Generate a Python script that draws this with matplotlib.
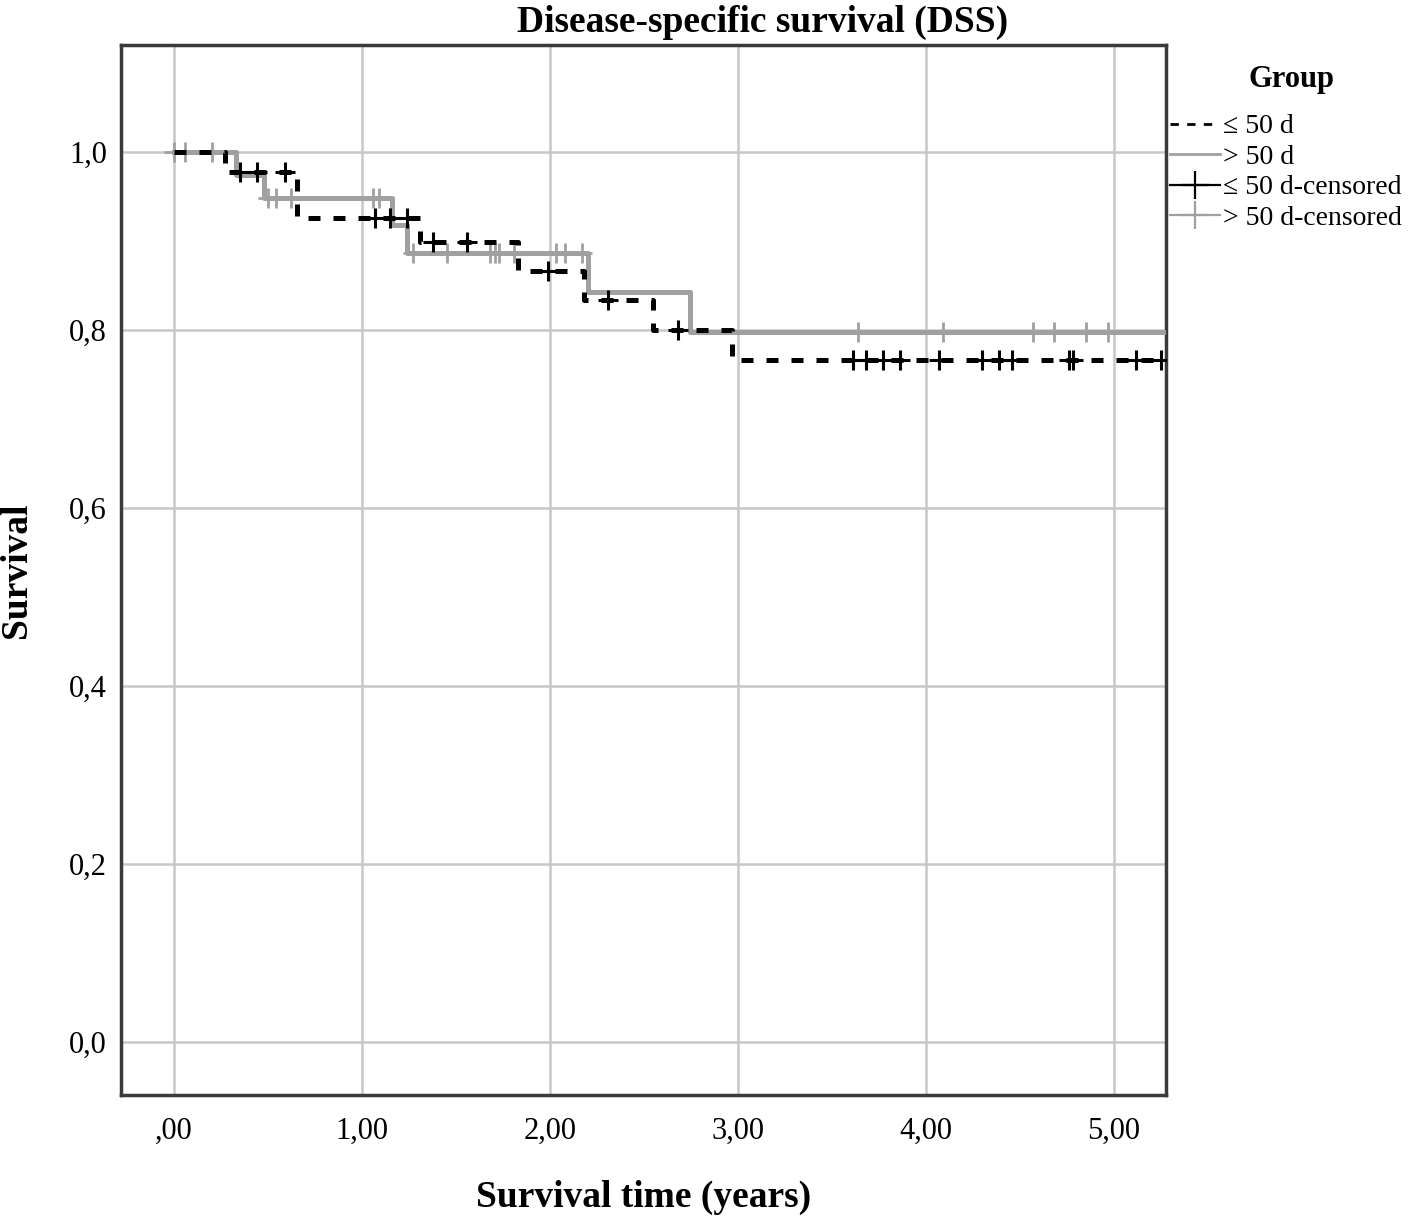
import numpy as np
import matplotlib
matplotlib.use('Agg')
import matplotlib.pyplot as plt
from matplotlib.lines import Line2D

plt.rcParams['font.family'] = ['Liberation Serif', 'DejaVu Serif']

# group <= 50 d (dashed black)
le_event_t = [0.27, 0.655, 1.31, 1.83, 2.18, 2.55, 2.97]
le_surv = [1.0, 0.977, 0.926, 0.899, 0.866, 0.834, 0.800, 0.766]
le_cens_t = [0.35, 0.44, 0.59, 1.07, 1.15, 1.24, 1.38, 1.56, 1.99, 2.31, 2.68,
             3.61, 3.68, 3.77, 3.86, 4.07, 4.30, 4.39, 4.46, 4.76, 4.78, 5.12, 5.25]

# group > 50 d (solid grey)
gt_event_t = [0.33, 0.48, 1.16, 1.24, 2.20, 2.745]
gt_surv = [1.0, 0.974, 0.948, 0.918, 0.886, 0.842, 0.798]
gt_cens_t = [0.0, 0.06, 0.2, 0.50, 0.54, 0.62, 1.06, 1.09, 1.27, 1.45, 1.68, 1.71,
             1.73, 1.81, 2.03, 2.08, 2.17, 3.64, 4.09, 4.57, 4.68, 4.85, 4.97]

t_end = 5.28

xticks = [0, 1, 2, 3, 4, 5]
xticklabels = [',00', '1,00', '2,00', '3,00', '4,00', '5,00']
yticks = [0.0, 0.2, 0.4, 0.6, 0.8, 1.0]
yticklabels = ['0,0', '0,2', '0,4', '0,6', '0,8', '1,0']


def km_xy(ev, s):
    x = np.r_[0, ev, t_end]
    y = np.r_[s, s[-1]]
    return x, y


def cens_y(ev, s, ct):
    idx = np.searchsorted(ev, ct, side='right')
    return np.asarray(s)[idx]


fig = plt.figure(figsize=(14.18, 12.19), dpi=100)
ax = fig.add_axes([121/1418, 1-1095/1219, (1166-121)/1418, (1095-45)/1219])

grey = '#a0a0a0'

x, y = km_xy(gt_event_t, gt_surv)
ax.step(x, y, where='post', color=grey, lw=3.6, zorder=3)
ax.plot(gt_cens_t, cens_y(gt_event_t, gt_surv, gt_cens_t), ls='none', marker='+',
        ms=15, mew=2, color=grey, zorder=4)

x, y = km_xy(le_event_t, le_surv)
ax.step(x, y, where='post', color='black', lw=3.6, ls=(0, (2.4, 2.6)), zorder=5)
ax.plot(le_cens_t, cens_y(le_event_t, le_surv, le_cens_t), ls='none', marker='+',
        ms=15, mew=2.2, color='black', zorder=6)

ax.set_xlim(-0.282, 5.277)
ax.set_ylim(-0.0596, 1.120)
ax.set_xticks(xticks)
ax.set_xticklabels(xticklabels)
ax.set_yticks(yticks)
ax.set_yticklabels(yticklabels)
ax.tick_params(length=0, labelsize=22)
ax.tick_params(axis='x', pad=16)
ax.tick_params(axis='y', pad=10)
ax.grid(True, color='#c8c8c8', lw=1.8, zorder=0)
ax.set_axisbelow(True)
for sp in ax.spines.values():
    sp.set_color('#3a3a3a')
    sp.set_linewidth(2.5)

fig.text(763/1418, 1-22/1219, 'Disease-specific survival (DSS)', fontsize=27,
         fontweight='bold', ha='center', va='center')
ax.set_xlabel('Survival time (years)', fontsize=27, fontweight='bold')
ax.xaxis.set_label_coords(0.5, -(1197-1095)/1050)
ax.xaxis.label.set_va('center')
ax.set_ylabel('Survival', fontsize=27, fontweight='bold')
ax.yaxis.set_label_coords(-(121-16)/1045, 0.5)
ax.yaxis.label.set_va('center')

# legend
fig.text(1292/1418, 1-80/1219, 'Group', fontsize=22, fontweight='bold',
         ha='center', va='center')
handles = [
    Line2D([], [], color='black', lw=2, ls=(0, (3, 3))),
    Line2D([], [], color=grey, lw=2),
    Line2D([], [], color='black', lw=1.6, marker='+', ms=20, mew=1.6),
    Line2D([], [], color=grey, lw=1.6, marker='+', ms=20, mew=1.6),
]
labels = ['≤ 50 d', '> 50 d', '≤ 50 d-censored', '> 50 d-censored']
leg = fig.legend(handles, labels, loc='upper left',
                 bbox_to_anchor=(1170/1418, 1-114/1219), frameon=False,
                 fontsize=20, handlelength=1.8,
                 handletextpad=0.12, labelspacing=0.18, borderaxespad=0,
                 borderpad=0)

fig.savefig('out.png', dpi=100)
